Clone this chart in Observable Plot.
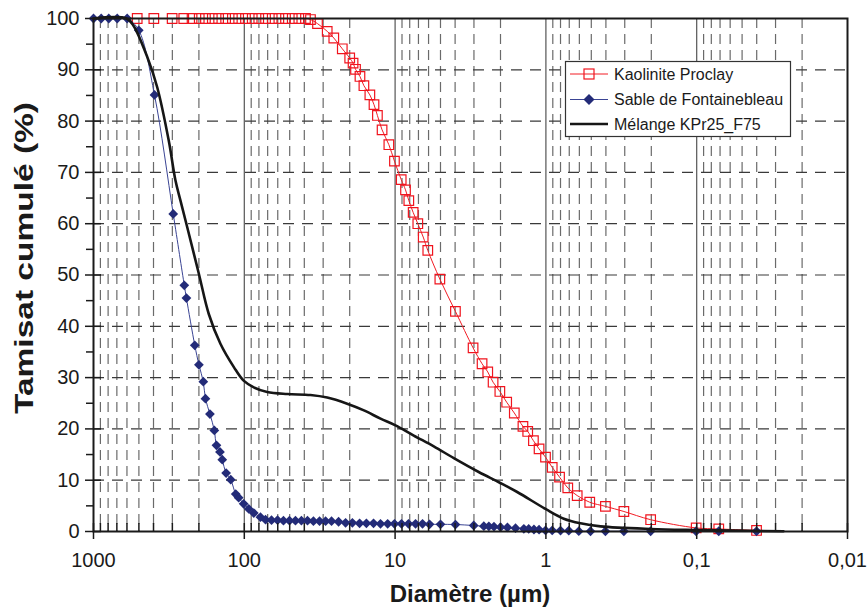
<!DOCTYPE html>
<html><head><meta charset="utf-8">
<script src="https://cdn.jsdelivr.net/npm/d3@7"></script>
<script src="https://cdn.jsdelivr.net/npm/@observablehq/plot@0.6"></script>
<style>
body{margin:0;background:#fff;}
#chart{width:868px;height:610px;}
</style>
</head><body><div id="chart"></div>
<script>
// ---- data ----
const seriesNames = ["Kaolinite Proclay", "Sable de Fontainebleau", "Mélange KPr25_F75"];
const xTickValues = [1000, 100, 10, 1, 0.1, 0.01];
const xTickLabels = ["1000", "100", "10", "1", "0,1", "0,01"];
const yTickValues = [0, 10, 20, 30, 40, 50, 60, 70, 80, 90, 100];
const yMinorTicks = [5, 15, 25, 35, 45, 55, 65, 75, 85, 95];
const xTitle = "Diamètre (µm)";
const yTitle = "Tamisat cumulé (%)";

const kaoDiam = [513,398,301,252,222,199,181,163,148,133,120,109,98.2,88.6,80.2,72.3,65.3,59.0,53.3,48.1,43.5,39.3,36.4,
  32.7,28.2,25.5,22.4,20.0,19.0,18.3,17.1,16.1,14.7,13.8,13.1,12.2,11.0,10.1,9.11,8.53,8.11,7.59,7.07,6.51,6.07,5.05,3.98,3.04,
  2.65,2.43,2.24,2.02,1.82,1.62,1.42,1.32,1.21,1.11,1.006,0.908,0.812,0.716,0.620,0.512,0.403,0.304,0.202,0.1008,0.0714,0.0401];
const kaoPct = [100,100,100,100,100,100,100,100,100,100,100,100,100,100,100,100,100,100,100,100,100,100,99.8,
  99.0,97.5,96.2,94.1,92.3,91.3,90.1,88.7,86.9,85.1,83.2,81.1,78.3,75.4,72.2,68.6,66.6,64.5,62.2,60.0,57.4,54.8,49.2,42.9,35.8,
  32.7,31.1,29.1,27.3,25.2,23.1,20.5,19.5,17.7,16.1,14.5,12.5,10.6,8.5,7.0,5.7,4.9,3.9,2.3,0.7,0.5,0.2];

const sabDiam = [1000,889,792,696,598,501,394,296,250,242,213,200,187,181,169,158,153,145,140,132,123,114,109,101,93.4,
  86.5,78.1,72.3,66.0,60.2,55.0,50.2,45.8,41.8,38.1,34.8,31.7,28.9,26.4,23.7,21.3,19.2,17.2,15.5,13.9,12.5,11.2,10.1,9.07,8.15,
  7.32,6.58,5.91,5.00,3.98,3.01,2.58,2.39,2.21,2.00,1.80,1.59,1.40,1.30,1.20,1.11,1.006,0.908,0.80,0.705,0.605,0.506,0.403,0.304,0.202,
  0.101,0.0714,0.0401];
const sabPct = [100,100,100,100,100,97.7,85.1,61.9,48.0,45.5,36.3,32.5,29.2,25.9,22.9,19.7,16.8,15.5,14.0,11.4,10.1,7.3,6.6,5.4,4.4,
  3.6,2.8,2.3,2.2,2.2,2.1,2.1,2.1,2.1,2.1,2.0,2.0,2.0,2.0,1.9,1.7,1.7,1.6,1.6,1.6,1.5,1.5,1.5,1.5,1.5,
  1.5,1.5,1.4,1.4,1.36,1.17,1.03,1.0,0.95,0.84,0.8,0.64,0.53,0.5,0.39,0.35,0.2,0.2,0.18,0.15,0.06,0.05,0.05,0.05,0.05,
  0.05,0.05,0.05];

const melDiam = [1000,604,543,440,378,317,286,265,239,200,172,144,117,101,86.5,70.5,51.9,36.4,28.2,20.8,16.1,12.5,9.94,7.52,5.54,
  4.08,2.79,2.05,1.55,1.006,0.761,0.59,0.434,0.202,0.1,0.0266];
const melPct = [100,100,98.6,92.5,86.6,76.2,68.4,64.5,59.3,50.2,42.4,36.6,32.0,29.4,28.1,27.2,26.8,26.6,26.1,24.9,23.6,22.0,20.7,18.7,16.6,
  14.3,11.6,9.6,7.7,4.4,2.5,1.6,1.0,0.5,0.3,0.05];

const colors = {kao: "#f0141e", kaoLine: "#f21c24", sab: "#232b78", sabLine: "#3a4494", mel: "#161616"};

// ---- tables ----
const kao = kaoDiam.map((d, i) => ({d, p: kaoPct[i]}));
const sab = sabDiam.map((d, i) => ({d, p: sabPct[i]}));
const mel = melDiam.map((d, i) => ({d, p: melPct[i]}));

const minorX = [];
for (let e = -2; e <= 2; e++) for (let k = 2; k <= 9; k++) minorX.push(+(k * Math.pow(10, e)).toPrecision(3));
const decadesInner = xTickValues.slice(1, -1);
const yGrid = yTickValues.slice(1, -1);
const fmtX = d => xTickLabels[xTickValues.indexOf(d)];

const chart = Plot.plot({
  width: 868, height: 610,
  marginLeft: 93, marginRight: 21, marginTop: 18, marginBottom: 79,
  x: {type: "log", domain: [1000, 0.01]},
  y: {domain: [0, 100]},
  style: {fontFamily: "'Liberation Sans', Arial, sans-serif", fontSize: "20px", color: "#1a1a1a", background: "#fff"},
  marks: [
    Plot.ruleX(minorX, {x: d => d, stroke: "#6a6a6a", strokeDasharray: "10,6", strokeWidth: 1.2}),
    Plot.ruleY(yGrid, {y: d => d, stroke: "#3a3a3a", strokeDasharray: "11,8", strokeWidth: 1.2}),
    Plot.ruleX(decadesInner, {x: d => d, stroke: "#555", strokeWidth: 1.2}),
    Plot.line(kao, {x: "d", y: "p", stroke: colors.kaoLine, strokeWidth: 1, curve: "catmull-rom"}),
    Plot.dot(kao, {x: "d", y: "p", symbol: "square", r: 5.4, stroke: colors.kao, strokeWidth: 1.2, fill: "none"}),
    Plot.line(sab, {x: "d", y: "p", stroke: colors.sabLine, strokeWidth: 1, curve: "catmull-rom"}),
    Plot.dot(sab, {x: "d", y: "p", symbol: "diamond2", r: 4.4, fill: colors.sab, stroke: "none"}),
    Plot.line(mel, {x: "d", y: "p", stroke: colors.mel, strokeWidth: 2.6, curve: "catmull-rom"}),
    Plot.frame({stroke: "#1a1a1a", strokeWidth: 2}),
    // y axis ticks and labels
    Plot.axisY(yTickValues, {tickSize: 8, tickPadding: 0, tickFormat: () => "", label: null, strokeWidth: 1.5}),
    Plot.axisY(yTickValues, {tickSize: 8, dx: 8, tickFormat: () => "", label: null, strokeWidth: 1.5}),
    Plot.axisY(yMinorTicks, {tickSize: 7, tickFormat: () => "", label: null, strokeWidth: 1.5}),
    Plot.axisY(yTickValues, {tickSize: 0, tickPadding: 14, tickFormat: d => String(d), label: null}),
    // x axis ticks and labels
    Plot.axisX(minorX, {tickSize: 8, dy: -8, tickFormat: () => "", label: null, strokeWidth: 1.5}),
    Plot.axisX(xTickValues, {tickSize: 16, dy: -8, tickFormat: () => "", label: null, strokeWidth: 1.5}),
    Plot.axisX(xTickValues, {tickSize: 0, tickPadding: 21, tickFormat: fmtX, label: null})
  ]
});
document.getElementById("chart").appendChild(chart);

// ---- axis titles and legend ----
const svg = d3.select(chart);
svg.append("text")
  .attr("x", 470).attr("y", 602)
  .attr("text-anchor", "middle")
  .style("font-weight", "bold").style("font-size", "24px").attr("fill", "#1a1a1a")
  .text(xTitle);
svg.append("text")
  .attr("transform", "translate(33,258) rotate(-90)")
  .attr("text-anchor", "middle")
  .attr("textLength", 312).attr("lengthAdjust", "spacingAndGlyphs")
  .style("font-weight", "bold").style("font-size", "26px").attr("fill", "#1a1a1a")
  .text(yTitle);

const lg = svg.append("g").style("font-size", "16px").attr("text-anchor", "start");
lg.append("rect").attr("x", 565.5).attr("y", 61.5).attr("width", 225).attr("height", 75)
  .attr("fill", "#fff").attr("stroke", "#333").attr("stroke-width", 1.2);
const rows = [74, 99.5, 124];
// Kaolinite
lg.append("line").attr("x1", 570).attr("x2", 608).attr("y1", rows[0]).attr("y2", rows[0]).attr("stroke", colors.kaoLine);
lg.append("rect").attr("x", 584).attr("y", rows[0] - 5).attr("width", 10).attr("height", 10)
  .attr("fill", "none").attr("stroke", colors.kao).attr("stroke-width", 1.2);
// Sable
lg.append("line").attr("x1", 570).attr("x2", 608).attr("y1", rows[1]).attr("y2", rows[1]).attr("stroke", colors.sabLine);
lg.append("path").attr("d", `M589,${rows[1]-5.5}L594.5,${rows[1]}L589,${rows[1]+5.5}L583.5,${rows[1]}Z`).attr("fill", colors.sab);
// Mélange
lg.append("line").attr("x1", 570).attr("x2", 608).attr("y1", rows[2]).attr("y2", rows[2]).attr("stroke", colors.mel).attr("stroke-width", 2.6);
seriesNames.forEach((n, i) => {
  lg.append("text").attr("x", 614).attr("y", rows[i]).attr("dy", "0.35em")
    .attr("text-anchor", "start").attr("fill", "#1a1a1a").text(n);
});
</script>
</body></html>
